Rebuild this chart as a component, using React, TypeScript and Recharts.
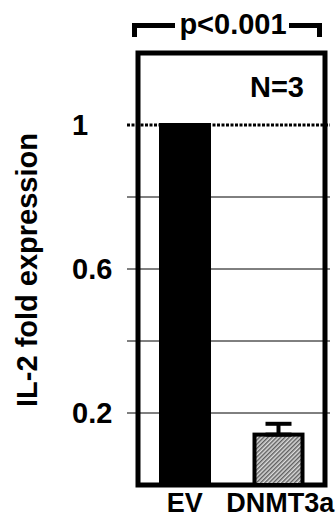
import { BarChart, Bar, XAxis, YAxis, ReferenceLine, ReferenceArea, ErrorBar } from "recharts";

const categories = ["EV", "DNMT3a"];
const foldValues = [1, 0.14];
// [lower, upper] error; only the upper whisker shows in the figure
const foldErrors = [
  [0, 0],
  [0, 0.03],
];
const yTicks = [0.2, 0.6, 1];
const gridValues = [0.2, 0.4, 0.6, 0.8];

const data = categories.map((name, i) => ({
  name,
  value: foldValues[i],
  err: foldErrors[i],
}));

const FONT = "'Liberation Sans', Arial, sans-serif";

function YTick(props: any) {
  const { y, payload } = props;
  return (
    <text
      x={72}
      y={y}
      dominantBaseline="central"
      textAnchor="start"
      fontFamily={FONT}
      fontWeight="bold"
      fontSize={29}
      fill="#000"
    >
      {payload.value}
    </text>
  );
}

function XTick(props: any) {
  const { x, y, payload, index } = props;
  return (
    <text
      x={x + (index === 1 ? 2 : 0)}
      y={y + 25}
      textAnchor="middle"
      fontFamily={FONT}
      fontWeight="bold"
      fontSize={27}
      fill="#000"
    >
      {payload.value}
    </text>
  );
}

export default function App() {
  return (
    <div style={{ position: "absolute", left: 0, top: 0, width: 336, height: 519, background: "#fff" }}>
      <BarChart
        width={336}
        height={519}
        data={data}
        margin={{ top: 53, right: 6, bottom: 0, left: 0 }}
      >
        <defs>
          <pattern
            id="hatch"
            patternUnits="userSpaceOnUse"
            width={3}
            height={3}
            patternTransform="rotate(45)"
          >
            <rect width={3} height={3} fill="#dcdcdc" />
            <line x1={0.75} y1={0} x2={0.75} y2={3} stroke="#505050" strokeWidth={1.3} />
          </pattern>
        </defs>
        <XAxis
          dataKey="name"
          height={34}
          padding={{ left: 11, right: 5 }}
          tickLine={false}
          tickSize={0}
          axisLine={false}
          tick={<XTick />}
          interval={0}
        />
        <YAxis
          width={127}
          domain={[0, 1.2]}
          ticks={yTicks}
          tickLine={false}
          axisLine={false}
          tick={<YTick />}
          interval={0}
        />
        {gridValues.map((v) => (
          <ReferenceLine key={v} y={v} stroke="#000" strokeWidth={1} />
        ))}
        <ReferenceLine y={1} stroke="#000" strokeWidth={3} strokeDasharray="3 1.5" />
        <Bar
          dataKey="value"
          barSize={48}
          stroke="#000"
          strokeWidth={4}
          isAnimationActive={false}
          shape={(p: any) => (
            <rect
              x={p.x}
              y={p.y}
              width={p.width}
              height={p.height}
              fill={p.index === 0 ? "#000" : "url(#hatch)"}
              stroke="#000"
              strokeWidth={4}
            />
          )}
        >
          <ErrorBar dataKey="err" width={13} stroke="#000" strokeWidth={4} direction="y" />
        </Bar>
        <ReferenceArea y1={0} y2={1.2} fill="none" fillOpacity={0} stroke="#000" strokeWidth={5} />
      </BarChart>
      <svg
        width={336}
        height={519}
        style={{ position: "absolute", left: 0, top: 0, pointerEvents: "none" }}
      >
        <path d="M134.5 37 V25.5 H175 M289 25.5 H319.5 V37" fill="none" stroke="#000" strokeWidth={5} />
        <text x={233} y={34} textAnchor="middle" fontFamily={FONT} fontWeight="bold" fontSize={29} fill="#000">
          p&lt;0.001
        </text>
        <text x={304} y={97} textAnchor="end" fontFamily={FONT} fontWeight="bold" fontSize={29} fill="#000">
          N=3
        </text>
        <text
          x={27}
          y={270}
          transform="rotate(-90 27 270)"
          textAnchor="middle"
          dominantBaseline="central"
          fontFamily={FONT}
          fontWeight="bold"
          fontSize={29}
          fill="#000"
        >
          IL-2 fold expression
        </text>
      </svg>
    </div>
  );
}
